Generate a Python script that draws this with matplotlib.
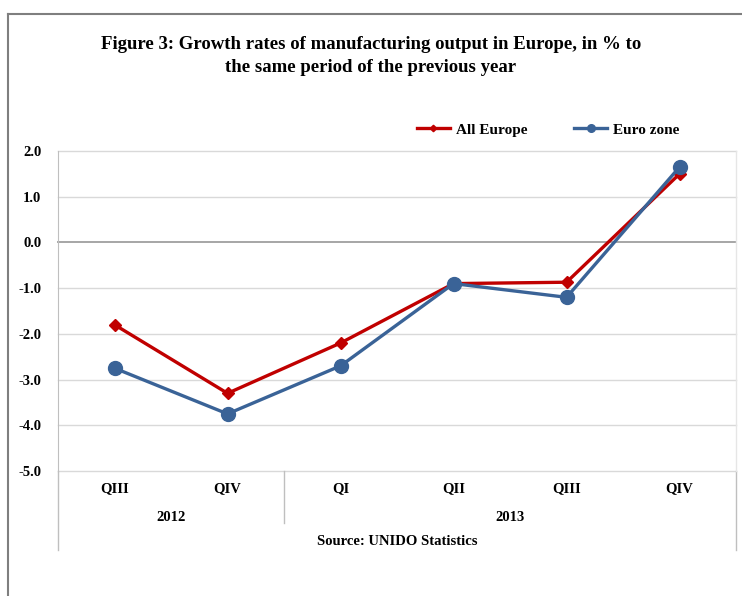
import matplotlib.pyplot as plt
from matplotlib.lines import Line2D

quarters = ["QIII", "QIV", "QI", "QII", "QIII", "QIV"]
years = ["2012", "2013"]
year_spans = [(0, 2), (2, 6)]
all_europe = [-1.8, -3.3, -2.2, -0.9, -0.87, 1.5]
euro_zone = [-2.75, -3.75, -2.7, -0.9, -1.2, 1.65]

plt.rcParams['font.family'] = ['Liberation Serif', 'DejaVu Serif']
plt.rcParams['font.weight'] = 'bold'

fig = plt.figure(figsize=(7.42, 5.96), dpi=100)
ax = fig.add_axes([0.0782, 0.2097, 0.9138, 0.5369])

x = list(range(len(quarters)))
ax.plot(x, all_europe, color='#C00000', lw=2.4, marker='D', ms=6, label='All Europe', zorder=3)
ax.plot(x, euro_zone, color='#3A6397', lw=2.4, marker='o', ms=10, label='Euro zone', zorder=4)

ax.set_xlim(-0.5, 5.5)
ax.set_ylim(-5, 2)
ax.set_yticks(range(-5, 3))
ax.set_yticklabels([f"{v:.1f}" for v in range(-5, 3)], fontsize=10.5, fontweight='bold')
ax.set_xticks(x)
ax.set_xticklabels(quarters, fontsize=10.5, fontweight='bold')
ax.tick_params(axis='both', length=0)
ax.tick_params(axis='x', pad=8)
ax.tick_params(axis='y', pad=12)

for v in range(-5, 3):
    ax.axhline(v, color='#A6A6A6' if v == 0 else '#D9D9D9', lw=1.4 if v == 0 else 1.0,
               zorder=1, clip_on=False)

for s in ['top', 'bottom', 'right']:
    ax.spines[s].set_visible(False)
ax.spines['left'].set_color('#BFBFBF')

tr = ax.get_xaxis_transform()
# category separators and outer lines of the axis area
for xs, ybot in [(-0.5, -0.247), (5.5, -0.247), (1.5, -0.1625)]:
    ax.add_line(Line2D([xs, xs], [0, ybot], transform=tr, color='#BFBFBF', lw=1.0, clip_on=False))
ax.add_line(Line2D([5.5, 5.5], [0, 1], transform=tr, color='#E6E6E6', lw=1.0, clip_on=False))

for (a, b), yr in zip(year_spans, years):
    ax.text((a + b - 1) / 2, -0.144, yr, transform=tr, ha='center', va='center', fontsize=10.5, fontweight='bold')
ax.text(2.5, -0.219, "Source: UNIDO Statistics", transform=tr, ha='center', va='center',
        fontsize=10.5, fontweight='bold')

ax.legend(loc='center', bbox_to_anchor=(0.723, 1.066), ncol=2, frameon=False,
          markerscale=0.55, handlelength=2.2, columnspacing=3.0, handletextpad=0.4,
          prop={'weight': 'bold', 'size': 11})

fig.text(0.5, 0.906, "Figure 3: Growth rates of manufacturing output in Europe, in % to\nthe same period of the previous year",
         ha='center', va='center', fontsize=13.5, fontweight='bold', linespacing=1.45)

# outer frame of the chart
fig.add_artist(Line2D([8 / 742, 8 / 742], [0, 1 - 14 / 596], color='#7F7F7F', lw=1.5))
fig.add_artist(Line2D([8 / 742, 1], [1 - 14 / 596, 1 - 14 / 596], color='#7F7F7F', lw=1.5))

fig.savefig("out.png", dpi=100)
